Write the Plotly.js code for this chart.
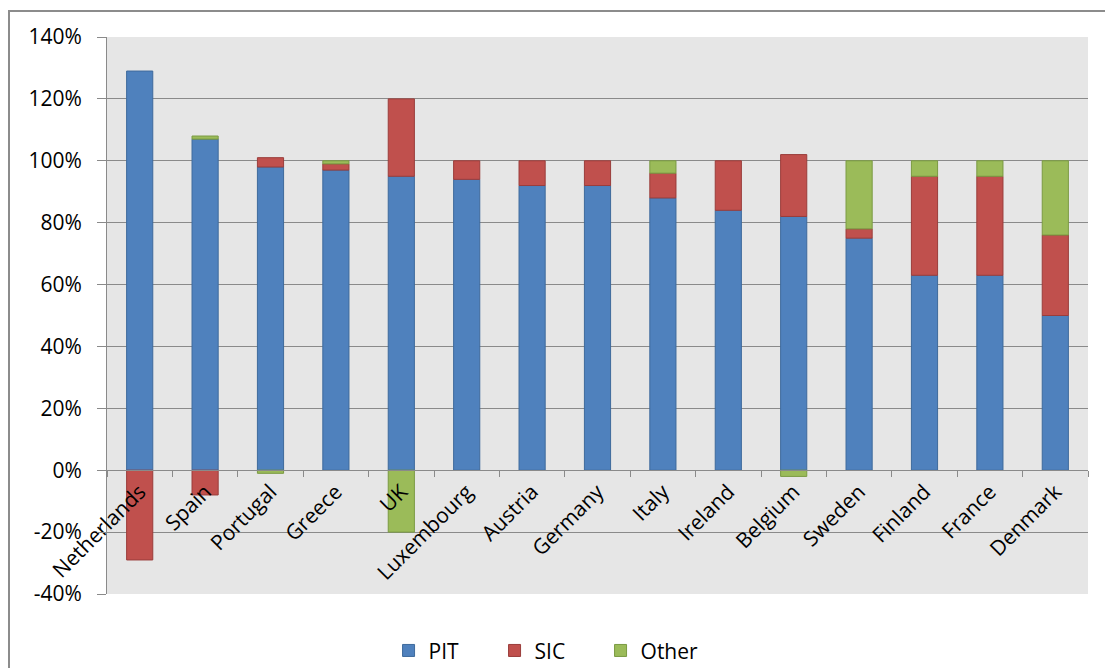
<!DOCTYPE html>
<html>
<head>
<meta charset="utf-8">
<script src="https://cdn.plot.ly/plotly-3.0.1.min.js"></script>
<style>html,body{margin:0;padding:0;background:#fff;}#chart{width:1105px;height:668px;}</style>
</head>
<body>
<div id="chart"></div>
<script>
const countries = ["Netherlands","Spain","Portugal","Greece","UK","Luxembourg","Austria","Germany","Italy","Ireland","Belgium","Sweden","Finland","France","Denmark"];
const pit   = [129, 107, 98, 97, 95, 94, 92, 92, 88, 84, 82, 75, 63, 63, 50];
const sic   = [-29, -8, 3, 2, 25, 6, 8, 8, 8, 16, 20, 3, 32, 32, 26];
const other = [null, 1, -1, 1, -20, null, null, null, 4, null, -2, 22, 5, 5, 24];
const yTicks = [-40, -20, 0, 20, 40, 60, 80, 100, 120, 140];

const font = "Open Sans, Liberation Sans, sans-serif";
function bar(name, vals, fill, edge) {
  return {type: 'bar', name: name, x: countries, y: vals,
    marker: {color: fill, line: {color: edge, width: 1}},
    hoverinfo: 'x+y'};
}
const data = [
  bar('PIT', pit, '#4f81bd', '#3e6a9c'),
  bar('SIC', sic, '#c0504d', '#9a3d3b'),
  bar('Other', other, '#9bbb59', '#7a9a42')
];
const pTop = 37, pBot = 594, pLeft = 107, pRight = 1088;
const H = pBot - pTop, W = pRight - pLeft;
const layout = {
  width: 1105, height: 668,
  margin: {l: pLeft, r: 1105 - pRight, t: pTop, b: 668 - pBot, pad: 0, autoexpand: false},
  paper_bgcolor: '#ffffff', plot_bgcolor: '#e6e6e6',
  barmode: 'relative', bargap: 0.6,
  font: {family: font, size: 21, color: '#000'},
  showlegend: true,
  legend: {orientation: 'h', x: 0.287, xanchor: 'left', y: -0.102, yanchor: 'middle',
    font: {size: 21, family: font}, entrywidth: 61, entrywidthmode: 'pixels', traceorder: 'normal'},
  xaxis: {
    type: 'category', anchor: 'free', position: 40/180,
    showline: true, linecolor: '#8a8a8a', linewidth: 1,
    ticks: 'outside', tickson: 'boundaries', ticklen: 6, tickcolor: '#8a8a8a',
    tickangle: -45, tickfont: {size: 21, family: font}, automargin: false,
    showgrid: false, zeroline: false, fixedrange: true
  },
  yaxis: {
    range: [-40, 140], tickvals: yTicks, ticktext: yTicks.map(v => v + '%'),
    showgrid: true, gridcolor: '#8a8a8a', gridwidth: 1,
    zeroline: false, automargin: false,
    showline: true, linecolor: '#8a8a8a', linewidth: 1,
    ticks: 'outside', ticklen: 9, tickcolor: '#8a8a8a', ticklabelstandoff: 11,
    tickfont: {size: 21, family: font}, fixedrange: true
  },
  shapes: [{
    type: 'rect', xref: 'paper', yref: 'paper', layer: 'below',
    x0: (9 - pLeft) / W, x1: (1120 - pLeft) / W,
    y0: (pBot - 690) / H, y1: (pBot - 11) / H,
    line: {color: '#8c8c8c', width: 2}, fillcolor: 'rgba(0,0,0,0)'
  }]
};
Plotly.newPlot('chart', data, layout, {displayModeBar: false, staticPlot: true});
</script>
</body>
</html>
